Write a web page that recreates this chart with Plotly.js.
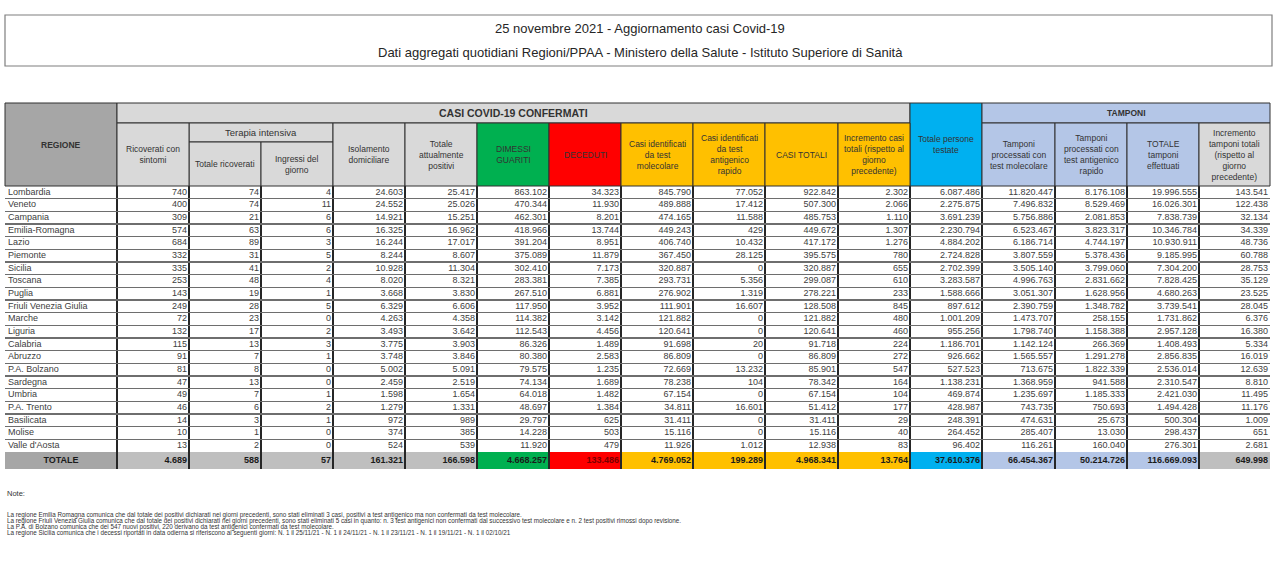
<!DOCTYPE html>
<html><head><meta charset="utf-8">
<script src="https://cdn.plot.ly/plotly-3.0.1.min.js"></script>
<style>html,body{margin:0;padding:0;background:#fff;} #chart{width:1280px;height:576px;}</style>
</head><body><div id="chart"></div>
<script>
const titleText = '25 novembre 2021 - Aggiornamento casi Covid-19';
const subtitleText = 'Dati aggregati quotidiani Regioni/PPAA - Ministero della Salute - Istituto Superiore di Sanità';

const regions = ['Lombardia','Veneto','Campania','Emilia-Romagna','Lazio','Piemonte','Sicilia','Toscana','Puglia','Friuli Venezia Giulia','Marche','Liguria','Calabria','Abruzzo','P.A. Bolzano','Sardegna','Umbria','P.A. Trento','Basilicata','Molise',"Valle d'Aosta"];
const ricoveratiConSintomi = [740,400,309,574,684,332,335,253,143,249,72,132,115,91,81,47,49,46,14,10,13];
const terapiaIntensiva = [74,74,21,63,89,31,41,48,19,28,23,17,13,7,8,13,7,6,3,1,2];
const ingressiDelGiorno = [4,11,6,6,3,5,2,4,1,5,0,2,3,1,0,0,1,2,1,0,0];
const isolamentoDomiciliare = [24603,24552,14921,16325,16244,8244,10928,8020,3668,6329,4263,3493,3775,3748,5002,2459,1598,1279,972,374,524];
const totaleAttualmentePositivi = [25417,25026,15251,16962,17017,8607,11304,8321,3830,6606,4358,3642,3903,3846,5091,2519,1654,1331,989,385,539];
const dimessiGuariti = [863102,470344,462301,418966,391204,375089,302410,283381,267510,117950,114382,112543,86326,80380,79575,74134,64018,48697,29797,14228,11920];
const deceduti = [34323,11930,8201,13744,8951,11879,7173,7385,6881,3952,3142,4456,1489,2583,1235,1689,1482,1384,625,503,479];
const casiTestMolecolare = [845790,489888,474165,449243,406740,367450,320887,293731,276902,111901,121882,120641,91698,86809,72669,78238,67154,34811,31411,15116,11926];
const casiTestAntigenico = [77052,17412,11588,429,10432,28125,0,5356,1319,16607,0,0,20,0,13232,104,0,16601,0,0,1012];
const casiTotali = [922842,507300,485753,449672,417172,395575,320887,299087,278221,128508,121882,120641,91718,86809,85901,78342,67154,51412,31411,15116,12938];
const incrementoCasi = [2302,2066,1110,1307,1276,780,655,610,233,845,480,460,224,272,547,164,104,177,29,40,83];
const personeTestate = [6087486,2275875,3691239,2230794,4884202,2724828,2702399,3283587,1588666,897612,1001209,955256,1186701,926662,527523,1138231,469874,428987,248391,264452,96402];
const tamponiMolecolari = [11820447,7496832,5756886,6523467,6186714,3807559,3505140,4996763,3051307,2390759,1473707,1798740,1142124,1565557,713675,1368959,1235697,743735,474631,285407,116261];
const tamponiAntigenici = [8176108,8529469,2081853,3823317,4744197,5378436,3799060,2831662,1628956,1348782,258155,1158388,266369,1291278,1822339,941588,1185333,750693,25673,13030,160040];
const totaleTamponi = [19996555,16026301,7838739,10346784,10930911,9185995,7304200,7828425,4680263,3739541,1731862,2957128,1408493,2856835,2536014,2310547,2421030,1494428,500304,298437,276301];
const incrementoTamponi = [143541,122438,32134,34339,48736,60788,28753,35129,23525,28045,6376,16380,5334,16019,12639,8810,11495,11176,1009,651,2681];
const totaleLabel = 'TOTALE';
const totali = [4689,588,57,161321,166598,4668257,133486,4769052,199289,4968341,13764,37610376,66454367,50214726,116669093,649998];

const columnLabels = ['REGIONE','Ricoverati con<br>sintomi','Totale ricoverati','Ingressi del<br>giorno','Isolamento<br>domiciliare','Totale<br>attualmente<br>positivi','DIMESSI<br>GUARITI','DECEDUTI','Casi identificati<br>da test<br>molecolare','Casi identificati<br>da test<br>antigenico<br>rapido','CASI TOTALI','Incremento casi<br>totali (rispetto al<br>giorno<br>precedente)','Totale persone<br>testate','Tamponi<br>processati con<br>test molecolare','Tamponi<br>processati con<br>test antigenico<br>rapido','TOTALE<br>tamponi<br>effettuati','Incremento<br>tamponi totali<br>(rispetto al<br>giorno<br>precedente)'];
const groupLabels = ['CASI COVID-19 CONFERMATI','Terapia intensiva','TAMPONI'];
const noteTitle = 'Note:';
const notes = [
 'La regione Emilia Romagna comunica che dal totale dei positivi dichiarati nei giorni precedenti, sono stati eliminati 3 casi, positivi a test antigenico ma non confermati da test molecolare.',
 'La regione Friuli Venezia Giulia comunica che dal totale dei positivi dichiarati nei giorni precedenti, sono stati eliminati 5 casi in quanto: n. 3 test antigenici non confermati dal successivo test molecolare e n. 2 test positivi rimossi dopo revisione.',
 'La P.A. di Bolzano comunica che dei 547 nuovi positivi, 220 derivano da test antigenici confermati da test molecolare.',
 'La regione Sicilia comunica che i decessi riportati in data odierna si riferiscono ai seguenti giorni: N. 1 il 25/11/21 - N. 1 il 24/11/21 - N. 1 il 23/11/21 - N. 1 il 19/11/21 - N. 1 il 02/10/21'
];

// ---------- layout geometry ----------
const W = 1280, H = 576;
const px = v => v / W, py = v => 1 - v / H;
const colWidths = [112,72,72,72,72,72,72,72,72,72,73,72,72,73,72,72,71];
const tableLeft = 5;
const edges = colWidths.reduce((a, w) => { a.push(a[a.length - 1] + w); return a; }, [0]);   // in table units
const tableWidth = edges[edges.length - 1];
const bands = [103, 123, 142, 186];       // header band boundaries (px)
const bodyTop = 186, rowH = 12.67, totalH = 17;
const bodyBottom = bodyTop + rowH * regions.length;
const rowIdx = regions.map((_, i) => i);
const rowBounds = [-0.5].concat(rowIdx.map(i => i + 0.5));

const GRAY = '#a6a6a6', LGRAY = '#d9d9d9', GREEN = '#00b050', RED = '#ff0000', ORANGE = '#ffc000', BLUE = '#00b0f0', LAV = '#b4c6e7', TGRAY = '#bfbfbf';
const colFill = [GRAY, LGRAY, LGRAY, LGRAY, LGRAY, LGRAY, GREEN, RED, ORANGE, ORANGE, ORANGE, ORANGE, BLUE, LAV, LAV, LAV, LGRAY];
const totalFill = [GRAY, TGRAY, TGRAY, TGRAY, TGRAY, TGRAY, GREEN, RED, ORANGE, ORANGE, ORANGE, ORANGE, BLUE, LAV, LAV, LAV, TGRAY];
const FONT = '"Liberation Sans", Arial, sans-serif';

const fmt = n => String(n).replace(/\B(?=(\d{3})+(?!\d))/g, '.');
const numericCols = [ricoveratiConSintomi, terapiaIntensiva, ingressiDelGiorno, isolamentoDomiciliare, totaleAttualmentePositivi, dimessiGuariti, deceduti, casiTestMolecolare, casiTestAntigenico, casiTotali, incrementoCasi, personeTestate, tamponiMolecolari, tamponiAntigenici, totaleTamponi, incrementoTamponi];

const traces = [];
// region names
traces.push({type: 'scatter', mode: 'text', x: rowIdx.map(() => edges[0] + 3), y: rowIdx, text: regions,
  textposition: 'middle right', textfont: {family: FONT, size: 9, color: '#404040'}, cliponaxis: false, hoverinfo: 'skip', xaxis: 'x', yaxis: 'y'});
numericCols.forEach((col, j) => {
  traces.push({type: 'scatter', mode: 'text', x: rowIdx.map(() => edges[j + 2] - 2), y: rowIdx, text: col.map(fmt),
    textposition: 'middle left', textfont: {family: FONT, size: 9, color: '#404040'}, cliponaxis: false, hoverinfo: 'skip', xaxis: 'x', yaxis: 'y'});
});
// total row
traces.push({type: 'scatter', mode: 'text', x: [(edges[0] + edges[1]) / 2], y: [0], text: [totaleLabel],
  textposition: 'middle center', textfont: {family: FONT, size: 9, color: '#1a1a1a', weight: 'bold'}, cliponaxis: false, hoverinfo: 'skip', xaxis: 'x', yaxis: 'y2'});
totali.forEach((v, j) => {
  traces.push({type: 'scatter', mode: 'text', x: [edges[j + 2] - 2], y: [0], text: [fmt(v)],
    textposition: 'middle left', textfont: {family: FONT, size: 9, color: j === 6 ? '#7a0000' : '#1a1a1a', weight: 'bold'}, cliponaxis: false, hoverinfo: 'skip', xaxis: 'x', yaxis: 'y2'});
});

// ---------- shapes + annotations ----------
const shapes = [];
const annotations = [];
const tx = e => tableLeft + e;   // table units -> px

// title box
shapes.push({type: 'rect', xref: 'paper', yref: 'paper', x0: px(5), x1: px(1272), y0: py(66), y1: py(15), fillcolor: '#ffffff', line: {color: '#7f7f7f', width: 1.2}});
annotations.push({xref: 'paper', yref: 'paper', x: px(640), y: py(28), text: titleText, showarrow: false, font: {family: FONT, size: 13, color: '#262626'}, xanchor: 'center', yanchor: 'middle'});
annotations.push({xref: 'paper', yref: 'paper', x: px(640), y: py(53), text: subtitleText, showarrow: false, font: {family: FONT, size: 13, color: '#262626'}, xanchor: 'center', yanchor: 'middle'});

// header cells
const headerCells = [
  {c: [0, 1], r: [0, 3], text: '<b>' + columnLabels[0] + '</b>', fill: colFill[0]},
  {c: [1, 12], r: [0, 1], text: '<b>' + groupLabels[0] + '</b>', fill: LGRAY, size: 10.5},
  {c: [12, 13], r: [0, 3], text: columnLabels[12], fill: colFill[12]},
  {c: [13, 17], r: [0, 1], text: '<b>' + groupLabels[2] + '</b>', fill: LAV},
  {c: [2, 4], r: [1, 2], text: groupLabels[1], fill: LGRAY, size: 9.5},
  {c: [2, 3], r: [2, 3], text: columnLabels[2], fill: colFill[2]},
  {c: [3, 4], r: [2, 3], text: columnLabels[3], fill: colFill[3]}
];
[1, 4, 5, 6, 7, 8, 9, 10, 11, 13, 14, 15, 16].forEach(i => headerCells.push({c: [i, i + 1], r: [1, 3], text: columnLabels[i], fill: colFill[i]}));
headerCells.forEach(h => {
  const x0 = tx(edges[h.c[0]]), x1 = tx(edges[h.c[1]]), y0 = bands[h.r[0]], y1 = bands[h.r[1]];
  shapes.push({type: 'rect', xref: 'paper', yref: 'paper', x0: px(x0), x1: px(x1), y0: py(y1), y1: py(y0), fillcolor: h.fill, line: {color: '#303030', width: 1}});
  annotations.push({xref: 'paper', yref: 'paper', x: px((x0 + x1) / 2), y: py((y0 + y1) / 2), text: h.text, showarrow: false, xanchor: 'center', yanchor: 'middle', align: 'center', font: {family: FONT, size: h.size || 8.5, color: '#333333'}});
});

// total row fills (through the axes)
totalFill.forEach((c, j) => shapes.push({type: 'rect', xref: 'x', yref: 'y2', x0: edges[j], x1: edges[j + 1], y0: -0.5, y1: 0.5, fillcolor: c, line: {width: 0}, layer: 'below'}));

// notes
annotations.push({xref: 'paper', yref: 'paper', x: px(5), y: py(493), text: noteTitle, showarrow: false, xanchor: 'left', yanchor: 'middle', font: {family: FONT, size: 7.5, color: '#333333'}});
notes.forEach((t, i) => annotations.push({xref: 'paper', yref: 'paper', x: px(5), y: py(515 + i * 6), text: t, showarrow: false, xanchor: 'left', yanchor: 'middle', font: {family: FONT, size: 6.3, color: '#333333'}}));

const gridAxis = {showticklabels: false, ticks: '', zeroline: false, showline: false, fixedrange: true};
const layout = {
  width: W, height: H,
  margin: {l: 0, r: 0, t: 0, b: 0},
  paper_bgcolor: '#ffffff', plot_bgcolor: 'rgba(0,0,0,0)',
  showlegend: false,
  xaxis: Object.assign({}, gridAxis, {domain: [px(tableLeft), px(tableLeft + tableWidth)], range: [0, tableWidth], tickmode: 'array', tickvals: edges, showgrid: true, gridcolor: '#262626', gridwidth: 1.2}),
  yaxis: Object.assign({}, gridAxis, {domain: [py(bodyBottom), py(bodyTop)], range: [regions.length - 0.5, -0.5], tickmode: 'array', tickvals: rowBounds, showgrid: true, gridcolor: '#6e6e6e', gridwidth: 1.4, anchor: 'x'}),
  yaxis2: Object.assign({}, gridAxis, {domain: [py(bodyBottom + totalH), py(bodyBottom)], range: [0.5, -0.5], tickmode: 'array', tickvals: [-0.5, 0.5], showgrid: true, gridcolor: '#303030', gridwidth: 1.2, anchor: 'x'}),
  shapes: shapes,
  annotations: annotations
};
Plotly.newPlot('chart', traces, layout, {displayModeBar: false, staticPlot: true});
</script>
</body></html>
